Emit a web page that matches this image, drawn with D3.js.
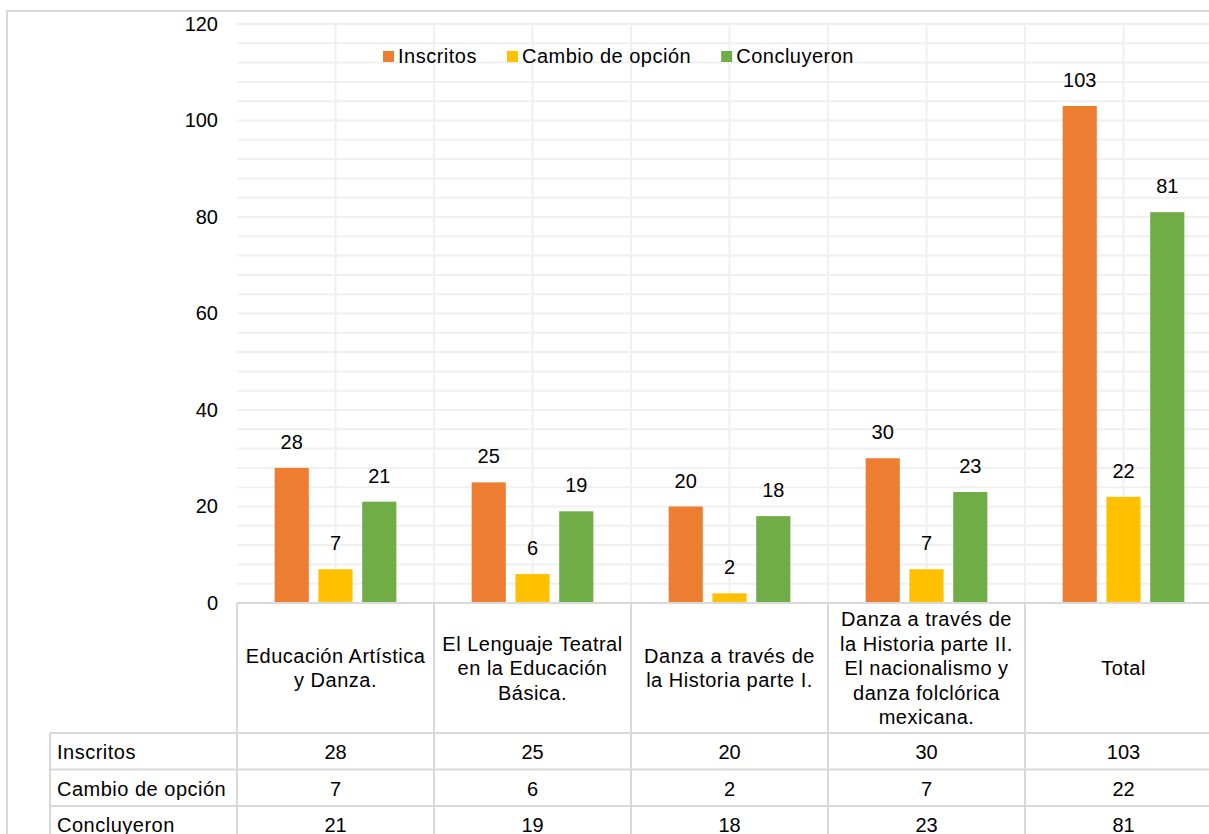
<!DOCTYPE html>
<html>
<head>
<meta charset="utf-8">
<script src="https://cdn.jsdelivr.net/npm/d3@7"></script>
<style>
  body { margin: 0; background: #fff; }
  svg text { font-family: "Liberation Sans", Arial, sans-serif; font-size: 20px; fill: #000; }
  svg text.wide { letter-spacing: 0.5px; }
</style>
</head>
<body>
<div id="chart"></div>
<script>
// category labels, already broken in lines like in the table header
var categories = [
    ["Educación Artística", "y Danza."],
    ["El Lenguaje Teatral", "en la Educación", "Básica."],
    ["Danza a través de", "la Historia parte I."],
    ["Danza a través de", "la Historia parte II.", "El nacionalismo y", "danza folclórica", "mexicana."],
    ["Total"]
];
var seriesNames = ["Inscritos", "Cambio de opción", "Concluyeron"];
var inscritos = [28, 25, 20, 30, 103];
var cambio = [7, 6, 2, 7, 22];
var concluyeron = [21, 19, 18, 23, 81];
var yTicks = [0, 20, 40, 60, 80, 100, 120];

var colors = {};
    colors["Inscritos"] = '#ED7D31';
    colors["Cambio de opción"] = '#FFC000';
    colors["Concluyeron"] = '#70AD47';

var seriesValues = [inscritos, cambio, concluyeron];

var width = 1209, height = 834;
var plotLeft = 237, plotTop = 24, plotBottom = 603;
var catW = 197;
var headerBottom = 733, rowH = 36.5, tableLeft = 50;
var gridColor = '#f0f0f0', lineColor = '#d9d9d9';

var svg = d3.select("#chart").append("svg")
    .attr("width", width)
    .attr("height", height);

// outer chart frame
svg.append("rect")
    .attr("x", 7).attr("y", 11)
    .attr("width", 1300).attr("height", 900)
    .attr("fill", "none")
    .attr("stroke", lineColor)
    .attr("stroke-width", 2);

var x = d3.scaleBand()
    .domain(d3.range(categories.length))
    .range([plotLeft, plotLeft + catW * categories.length]);

var x1 = d3.scaleBand()
    .domain(seriesNames)
    .range([0, x.bandwidth()])
    .paddingInner(0.22)
    .paddingOuter(0.86);

var y = d3.scaleLinear()
    .domain([0, 120])
    .range([plotBottom, plotTop]);

// gridlines
var grid = svg.append("g").attr("stroke", gridColor).attr("stroke-width", 2);
grid.selectAll(".hgrid")
    .data(d3.range(4, 121, 4))
    .enter().append("line")
    .attr("x1", plotLeft).attr("x2", x.range()[1])
    .attr("y1", function(d) { return y(d); })
    .attr("y2", function(d) { return y(d); });

var vpos = [];
for (var i = 0; i < categories.length; i++) {
    vpos.push(x(i) + x.bandwidth() / 2);
    if (i > 0) vpos.push(x(i));
}
grid.selectAll(".vgrid")
    .data(vpos)
    .enter().append("line")
    .attr("x1", function(d) { return d; }).attr("x2", function(d) { return d; })
    .attr("y1", plotTop).attr("y2", plotBottom);

// y axis labels
var yAxis = svg.append("g")
    .attr("transform", "translate(" + (plotLeft - 5) + ",0)")
    .call(d3.axisLeft(y).tickValues(yTicks).tickSize(0).tickPadding(14));
yAxis.select(".domain").remove();
yAxis.selectAll("text").attr("font-size", null).attr("font-family", null).attr("fill", null);

// bars
var groups = svg.append("g").selectAll("g")
    .data(categories)
    .enter().append("g")
    .attr("transform", function(d, i) { return "translate(" + x(i) + ",0)"; });

groups.selectAll("rect")
    .data(function(d, i) { return seriesNames.map(function(s, k) { return {name: s, value: seriesValues[k][i]}; }); })
    .enter().append("rect")
    .attr("x", function(d) { return x1(d.name); })
    .attr("width", x1.bandwidth())
    .attr("y", function(d) { return y(d.value); })
    .attr("height", function(d) { return plotBottom - y(d.value); })
    .attr("fill", function(d) { return colors[d.name]; });

groups.selectAll(".lbl")
    .data(function(d, i) { return seriesNames.map(function(s, k) { return {name: s, value: seriesValues[k][i]}; }); })
    .enter().append("text")
    .attr("class", "lbl")
    .attr("text-anchor", "middle")
    .attr("x", function(d) { return x1(d.name) + x1.bandwidth() / 2; })
    .attr("y", function(d) { return y(d.value) - 19; })
    .text(function(d) { return d.value; });

// data table
var table = svg.append("g").attr("stroke", lineColor).attr("stroke-width", 2);
table.append("line")
    .attr("x1", plotLeft).attr("x2", 1300)
    .attr("y1", plotBottom).attr("y2", plotBottom);
for (var r = 0; r <= seriesNames.length; r++) {
    table.append("line")
        .attr("x1", tableLeft).attr("x2", 1300)
        .attr("y1", headerBottom + r * rowH).attr("y2", headerBottom + r * rowH);
}
table.append("line")
    .attr("x1", tableLeft).attr("x2", tableLeft)
    .attr("y1", headerBottom).attr("y2", height);
table.selectAll(".vcol")
    .data(d3.range(categories.length + 1))
    .enter().append("line")
    .attr("x1", function(d) { return plotLeft + d * catW; })
    .attr("x2", function(d) { return plotLeft + d * catW; })
    .attr("y1", plotBottom).attr("y2", height);

// header cells
var headerMid = (plotBottom + headerBottom) / 2, lineH = 24.5;
svg.append("g").selectAll("text")
    .data(categories)
    .enter().append("text")
    .attr("class", "wide")
    .attr("text-anchor", "middle")
    .attr("y", function(d) { return headerMid - (d.length - 1) * lineH / 2 + 7; })
    .each(function(d, i) {
        var t = d3.select(this);
        d.forEach(function(line, j) {
            t.append("tspan")
                .attr("x", x(i) + x.bandwidth() / 2)
                .attr("dy", j == 0 ? 0 : lineH)
                .text(line);
        });
    });

// rows
var rows = svg.append("g").selectAll("g")
    .data(seriesNames)
    .enter().append("g")
    .attr("transform", function(d, k) { return "translate(0," + (headerBottom + k * rowH + 26) + ")"; });
rows.append("text")
    .attr("class", "wide")
    .attr("x", tableLeft + 7)
    .text(function(d) { return d; });
rows.selectAll(".val")
    .data(function(d, k) { return seriesValues[k]; })
    .enter().append("text")
    .attr("text-anchor", "middle")
    .attr("x", function(d, i) { return x(i) + x.bandwidth() / 2; })
    .text(function(d) { return d; });

// legend
var legend = svg.append("g");
var lx = 383;
seriesNames.forEach(function(s) {
    legend.append("rect")
        .attr("x", lx).attr("y", 51)
        .attr("width", 11).attr("height", 11)
        .attr("fill", colors[s]);
    var t = legend.append("text")
        .attr("class", "wide")
        .attr("x", lx + 15).attr("y", 63)
        .text(s);
    lx += 15 + t.node().getComputedTextLength() + 30;
});
</script>
</body>
</html>
